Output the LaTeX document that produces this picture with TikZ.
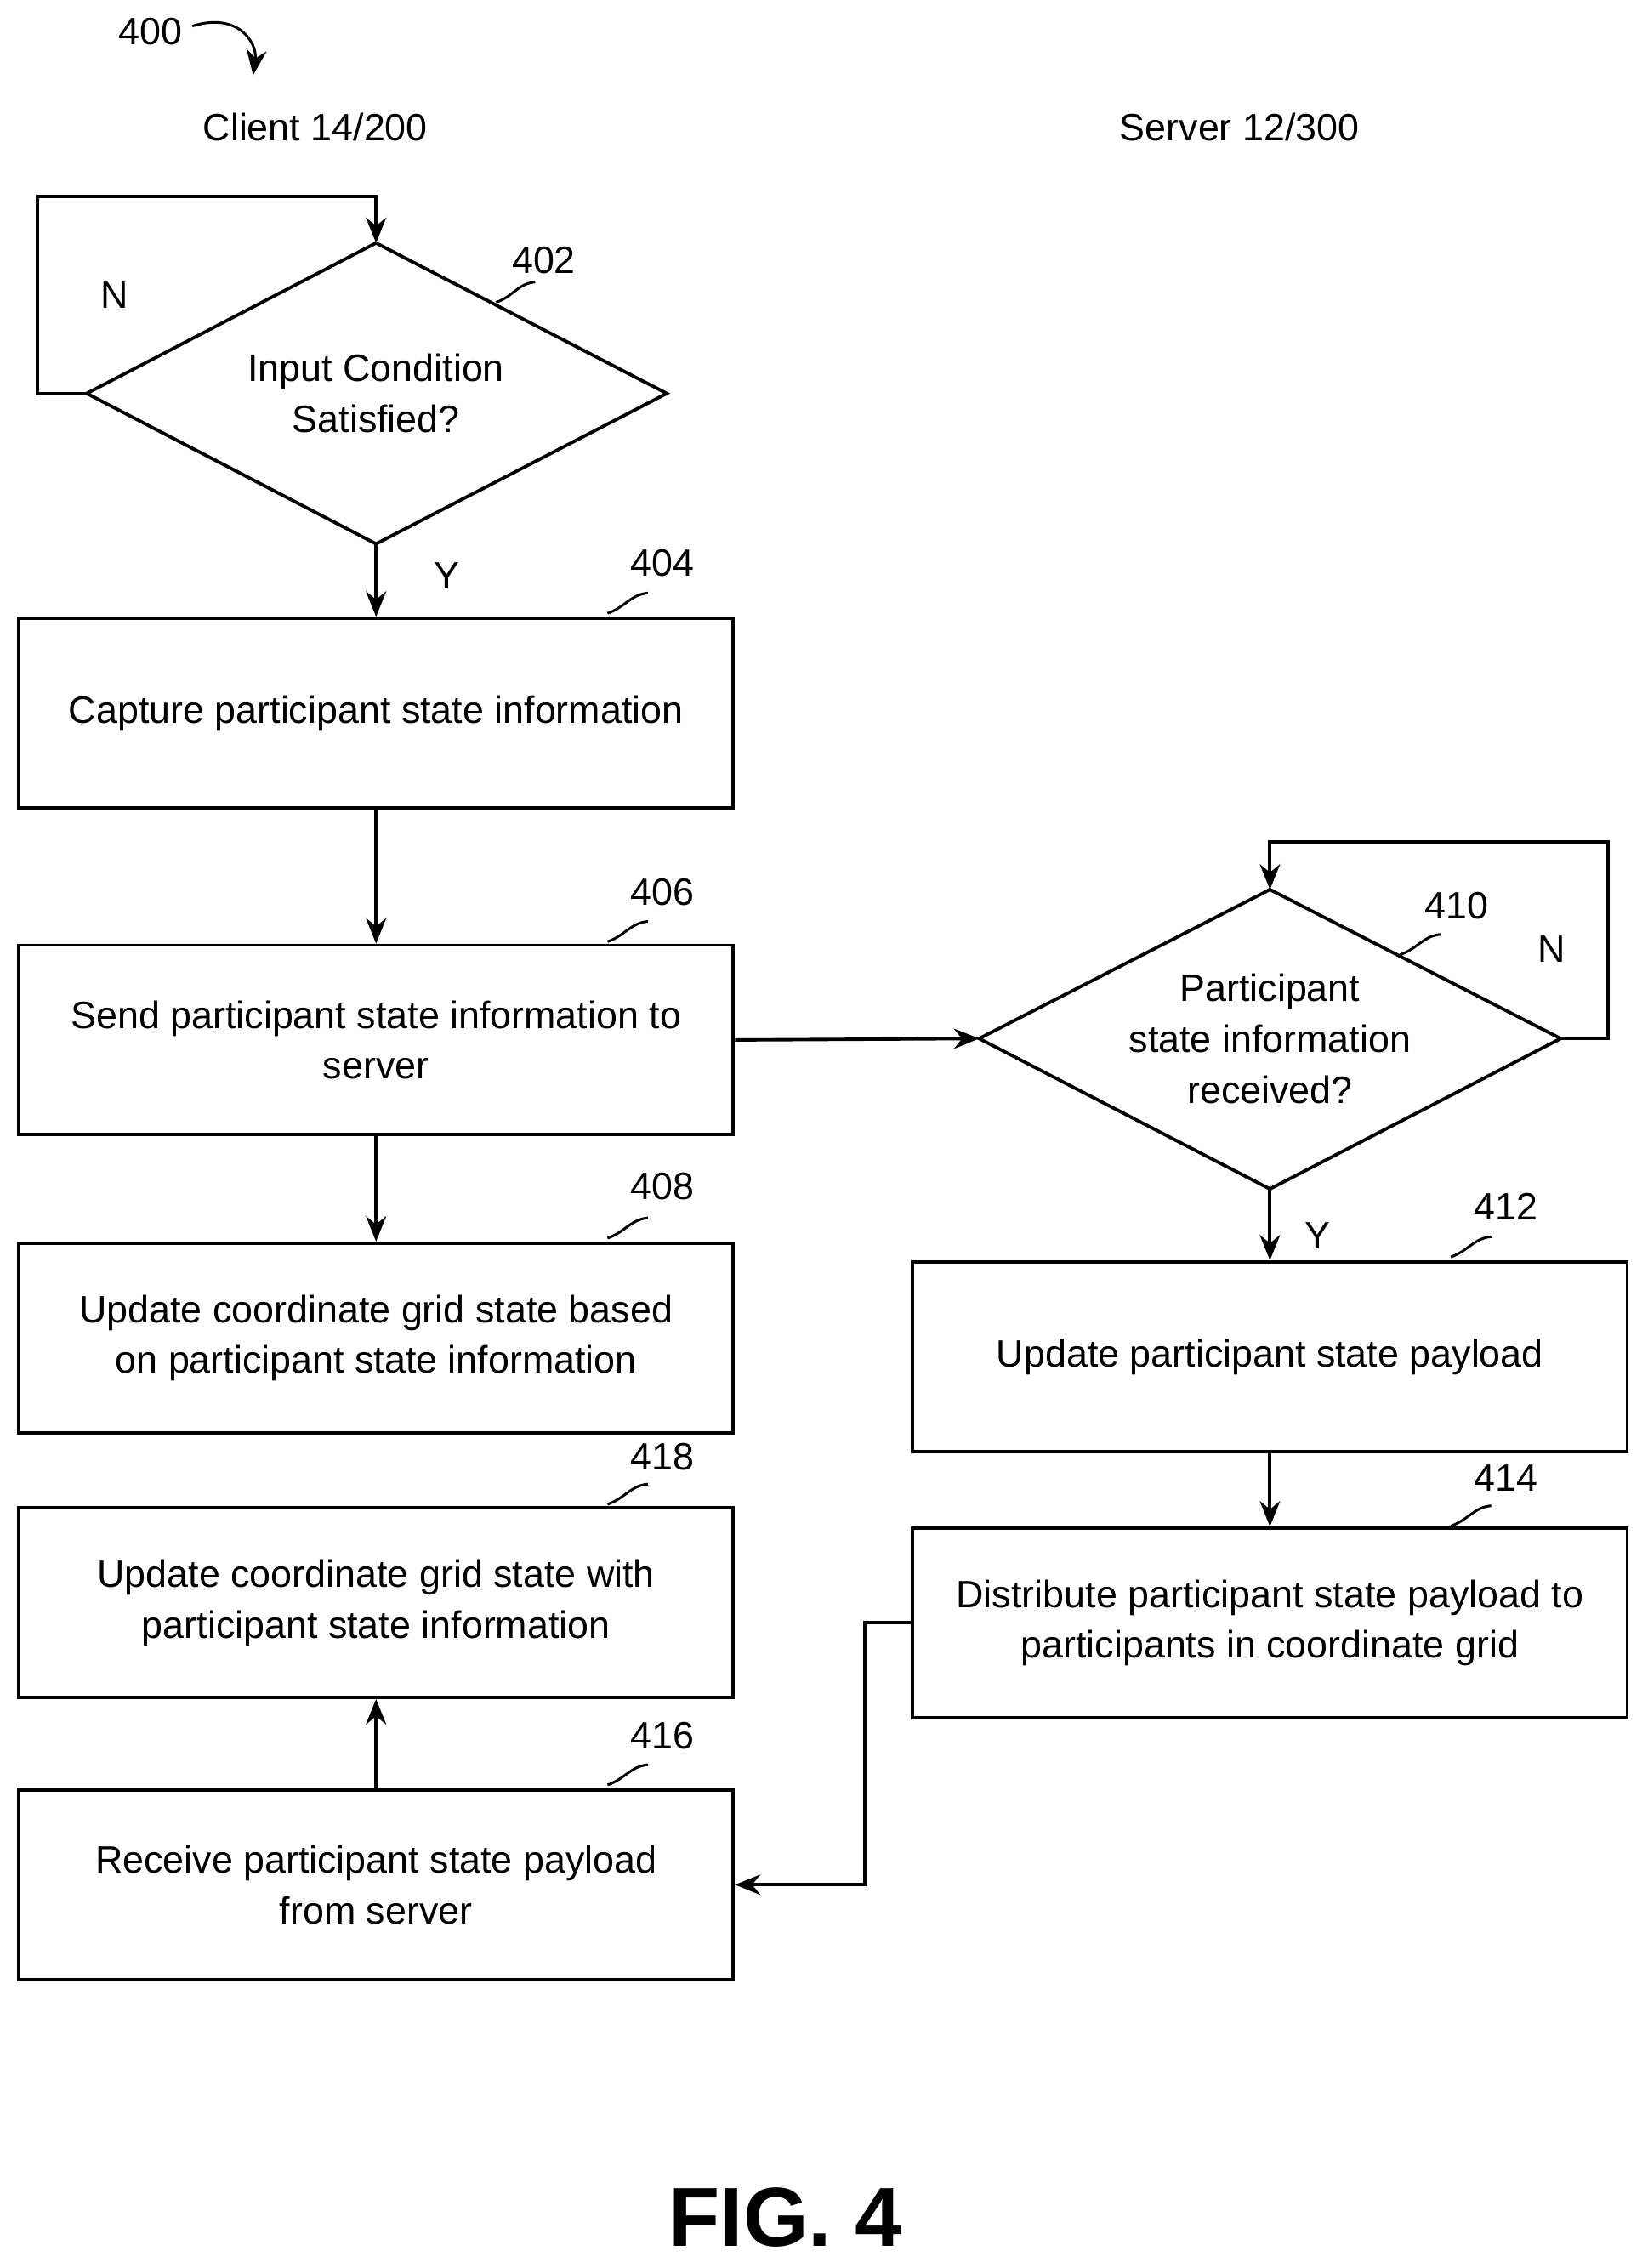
\documentclass[tikz,border=0pt]{standalone}
\usepackage{fontspec}
\setmainfont{Liberation Sans}
\usetikzlibrary{shapes.geometric,arrows.meta}
\begin{document}
\begin{tikzpicture}[x=0.02cm,y=-0.02cm,
  line width=1.3pt,
  txt/.style={font=\fontsize{15}{20}\selectfont,align=center,inner sep=0},
  box/.style={draw,minimum width=494*0.02cm,minimum height=131*0.02cm,txt},
  lab/.style={font=\fontsize{15}{18}\selectfont,inner sep=0},
  arr/.style={-{Stealth[length=10pt,width=8pt]}},
  tick/.style={line width=1pt}]
\useasboundingbox (0,0) rectangle (1139,1568);
\node[lab] (t400) at (104,22) {400};
\coordinate (c400a) at (133,18);
\coordinate (c400b) at (175,52);
\draw[arr,line width=1pt] (c400a) .. controls (165,8) and (178,30) .. (c400b);
\node[lab] (cl) at (218,88) {Client 14/200};
\node[lab] (sv) at (857,88) {Server 12/300};

% diamond 402
\coordinate (d1t) at (260,168); \coordinate (d1b) at (260,376);
\coordinate (d1l) at (60,272); \coordinate (d1r) at (461,272);
\draw (d1t) -- (d1r) -- (d1b) -- (d1l) -- cycle;
\node[txt] (d1) at (260,272) {Input Condition\\Satisfied?};
\coordinate (l1a) at (26,272); \coordinate (l1b) at (26,136); \coordinate (l1c) at (260,136);
\draw[arr] (d1l) -- (l1a) -- (l1b) -- (l1c) -- (d1t);
\node[lab] (n1) at (79,204) {N};
\node[lab] (t402) at (376,180) {402};
\draw[tick] (343,209) .. controls (355,205) and (358,196) .. (370,195);

\node[box] (b404) at (260,493) {Capture participant state information};
\draw[arr] (d1b) -- (b404.north);
\node[lab] (y1) at (309,398) {Y};
\node[lab] (t404) at (458,389) {404};
\draw[tick] (420,424) .. controls (432,420) and (436,411) .. (448,410);

\node[box] (b406) at (260,719) {Send participant state information to\\server};
\draw[arr] (b404.south) -- (b406.north);
\node[lab] (t406) at (458,617) {406};
\draw[tick] (420,651) .. controls (432,647) and (436,638) .. (448,637);

\node[box] (b408) at (260,925) {Update coordinate grid state based\\on participant state information};
\draw[arr] (b406.south) -- (b408.north);
\node[lab] (t408) at (458,820) {408};
\draw[tick] (420,856) .. controls (432,852) and (436,843) .. (448,842);

\node[box] (b418) at (260,1108) {Update coordinate grid state with\\participant state information};
\node[lab] (t418) at (458,1007) {418};
\draw[tick] (420,1040) .. controls (432,1036) and (436,1027) .. (448,1026);

\node[box] (b416) at (260,1303) {Receive participant state payload\\from server};
\draw[arr] (b416.north) -- (b418.south);
\node[lab] (t416) at (458,1200) {416};
\draw[tick] (420,1234) .. controls (432,1230) and (436,1221) .. (448,1220);

% diamond 410
\coordinate (d2t) at (878,615); \coordinate (d2b) at (878,822);
\coordinate (d2l) at (677,718); \coordinate (d2r) at (1079,718);
\draw (d2t) -- (d2r) -- (d2b) -- (d2l) -- cycle;
\node[txt] (d2) at (878,718) {Participant\\state information\\received?};
\coordinate (l2a) at (1112,718); \coordinate (l2b) at (1112,582); \coordinate (l2c) at (878,582);
\draw[arr] (d2r) -- (l2a) -- (l2b) -- (l2c) -- (d2t);
\node[lab] (n2) at (1073,656) {N};
\node[lab] (t410) at (1007,626) {410};
\draw[tick] (968,660) .. controls (980,656) and (984,647) .. (996,646);
\draw[arr] (b406.east) -- (d2l);

\node[box] (b412) at (878,938) {Update participant state payload};
\draw[arr] (d2b) -- (b412.north);
\node[lab] (y2) at (911,854) {Y};
\node[lab] (t412) at (1041,834) {412};
\draw[tick] (1003,869) .. controls (1015,865) and (1019,856) .. (1031,855);

\node[box] (b414) at (878,1122) {Distribute participant state payload to\\participants in coordinate grid};
\draw[arr] (b412.south) -- (b414.north);
\node[lab] (t414) at (1041,1022) {414};
\draw[tick] (1003,1055) .. controls (1015,1051) and (1019,1042) .. (1031,1041);

\coordinate (r1) at (598,1122); \coordinate (r2) at (598,1303);
\draw[arr] (b414.west) -- (r1) -- (r2) -- (b416.east);

\node[font=\fontsize{33}{36}\selectfont\bfseries,inner sep=0] (fig) at (543,1533) {FIG. 4};
\end{tikzpicture}
\end{document}
